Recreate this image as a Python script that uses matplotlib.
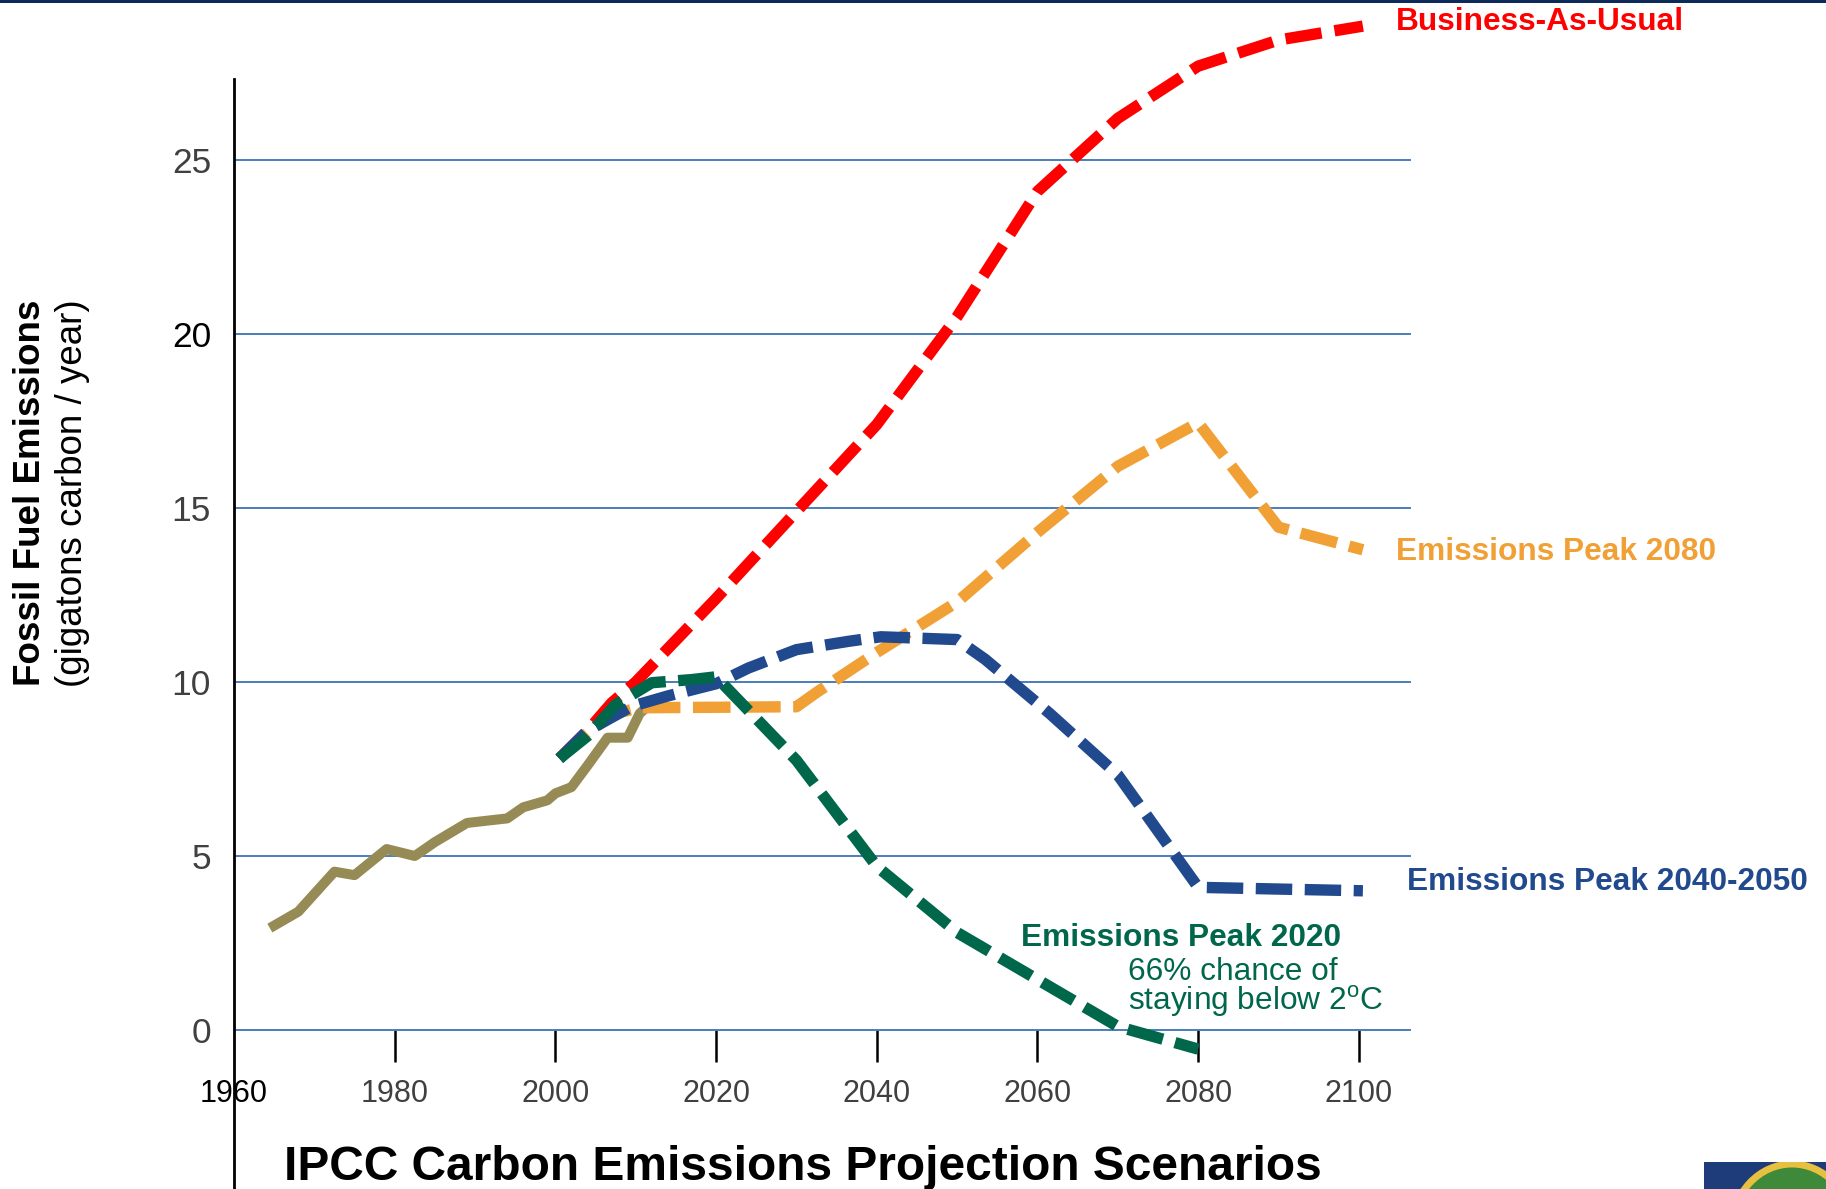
import matplotlib
matplotlib.use("Agg")
import matplotlib.pyplot as plt
from matplotlib.patches import Rectangle, Ellipse

plt.rcParams['font.family'] = ['Liberation Sans', 'DejaVu Sans']

W, H = 1826, 1189

# observed fossil fuel emissions (GtC / yr)
hist_years = [1965, 1968, 1972.5, 1975, 1979, 1982.5, 1985, 1989, 1994, 1996, 1999, 2000,
              2002, 2004, 2006.5, 2009, 2010.5, 2012]
hist_vals = [3.0, 3.4, 4.55, 4.45, 5.2, 5.0, 5.4, 5.95, 6.08, 6.4, 6.6, 6.8,
             6.98, 7.6, 8.4, 8.4, 9.1, 9.4]

# scenario projections
bau_years = [2000.5, 2004, 2007, 2010, 2020, 2030, 2040, 2050, 2060, 2070, 2080, 2090, 2100.5]
bau_vals = [7.8, 8.6, 9.4, 10.0, 12.4, 14.9, 17.4, 20.5, 24.1, 26.2, 27.7, 28.45, 28.85]

peak2080_years = [2000.5, 2004, 2007.5, 2010.5, 2030, 2032.5, 2040, 2050, 2060, 2070, 2080, 2090, 2100.5]
peak2080_vals = [7.8, 8.55, 9.1, 9.26, 9.29, 9.7, 10.85, 12.3, 14.3, 16.2, 17.45, 14.45, 13.8]

peak2045_years = [2000.5, 2004, 2009.5, 2014, 2020, 2024, 2030, 2036.5, 2040.5, 2050, 2053.5, 2061.5,
                  2070, 2080, 2090, 2100.5]
peak2045_vals = [7.8, 8.6, 9.3, 9.6, 9.95, 10.4, 10.93, 11.17, 11.3, 11.22, 10.65, 9.1,
                 7.33, 4.1, 4.05, 4.0]

peak2020_years = [2000.5, 2004, 2007.5, 2012, 2017, 2020, 2030, 2040, 2050, 2060, 2070, 2080]
peak2020_vals = [7.8, 8.45, 9.35, 9.98, 10.07, 10.15, 7.75, 4.7, 2.8, 1.45, 0.1, -0.55]

y_ticks = [0, 5, 10, 15, 20, 25]
x_ticks = [1960, 1980, 2000, 2020, 2040, 2060, 2080, 2100]

c_hist = '#978B55'
c_bau = '#FF0000'
c_2080 = '#F0A035'
c_2045 = '#21498E'
c_2020 = '#00674B'
c_grid = '#4A7EBB'


def px(x, y):
    # pixel position in the output image -> figure fraction
    return x / W, 1 - y / H


fig = plt.figure(figsize=(W / 100, H / 100), dpi=100)
ax = fig.add_axes([234 / W, 0, (1411.1 - 234) / W, (H - 79) / H])
ax.set_xlim(1960, 2106.5)
ax.set_ylim(-4.57, 27.33)

# axes styling
for side in ('top', 'right'):
    ax.spines[side].set_visible(False)
ax.spines['left'].set_linewidth(2)
ax.spines['left'].set_color('black')
ax.spines['bottom'].set_position(('data', 0))
ax.spines['bottom'].set_visible(False)

ax.set_yticks(y_ticks, labels=[str(v) for v in y_ticks])
ax.set_xticks(x_ticks, labels=[str(v) for v in x_ticks])
ax.tick_params(axis='y', length=0, pad=16.5, labelsize=25.5, labelcolor='#404040')
ax.tick_params(axis='x', direction='out', length=23, width=1.8, color='black',
               pad=12, labelsize=22, labelcolor='#404040')
ax.xaxis.get_major_ticks()[0].tick1line.set_visible(False)
for lbl in ax.get_yticklabels():
    if lbl.get_text() == '20':
        lbl.set_color('black')
ax.get_xticklabels()[0].set_color('black')

ax.grid(axis='y', color=c_grid, lw=1.4)
ax.set_axisbelow(True)

# lines
ax.plot(hist_years, hist_vals, color=c_hist, lw=7.2, clip_on=False, zorder=2)
dash_kw = dict(lw=8.2, clip_on=False, dash_capstyle='butt', solid_joinstyle='miter')
ax.plot(bau_years, bau_vals, color=c_bau, dashes=(3.2, 1.15), zorder=3, **dash_kw)
ax.plot(peak2080_years, peak2080_vals, color=c_2080, dashes=(3.3, 1.1), zorder=4, **dash_kw)
ax.plot(peak2045_years, peak2045_vals, color=c_2045, dashes=(3.2, 1.1), zorder=5, **dash_kw)
ax.plot(peak2020_years, peak2020_vals, color=c_2020, dashes=(3.2, 1.1), zorder=6, **dash_kw)

# scenario labels
fig.text(*px(1396, 30), 'Business-As-Usual', color=c_bau, fontsize=22.8,
         fontweight='bold', va='baseline')
fig.text(*px(1396, 560), 'Emissions Peak 2080', color=c_2080, fontsize=22.8,
         fontweight='bold', va='baseline')
fig.text(*px(1407, 890), 'Emissions Peak 2040-2050', color=c_2045, fontsize=22.8,
         fontweight='bold', va='baseline')
fig.text(*px(1021, 946), 'Emissions Peak 2020', color=c_2020, fontsize=22.8,
         fontweight='bold', va='baseline')
fig.text(*px(1128, 980), '66% chance of', color=c_2020, fontsize=22.8, va='baseline')
fig.text(*px(1128, 1010), r'staying below 2$^{\mathregular{o}}$C', color=c_2020,
         fontsize=22.8, va='baseline')

# y axis label
fig.text(*px(40, 493), 'Fossil Fuel Emissions', rotation=90, rotation_mode='anchor',
         ha='center', va='baseline', fontsize=26.5, fontweight='bold')
fig.text(*px(82, 493), '(gigatons carbon / year)', rotation=90, rotation_mode='anchor',
         ha='center', va='baseline', fontsize=26.5)

# title
fig.text(*px(803, 1180), 'IPCC Carbon Emissions Projection Scenarios', ha='center',
         va='baseline', fontsize=34.5, fontweight='bold')

# slide decoration: top rule and corner logo
fig.add_artist(Rectangle((0, 1 - 3 / H), 1, 3 / H, transform=fig.transFigure,
                         color='#0E2A5A', lw=0))
logo = Rectangle((1704 / W, 0), 122 / W, 27 / H, transform=fig.transFigure,
                 color='#1F3C7A', lw=0)
fig.add_artist(logo)
globe = Ellipse((1792 / W, -40 / H), 120 / W, 130 / H, transform=fig.transFigure,
                facecolor='#3E8A3A', edgecolor='#E8C040', lw=5)
fig.add_artist(globe)
globe.set_clip_path(logo)

fig.savefig('out.png', dpi=100)
